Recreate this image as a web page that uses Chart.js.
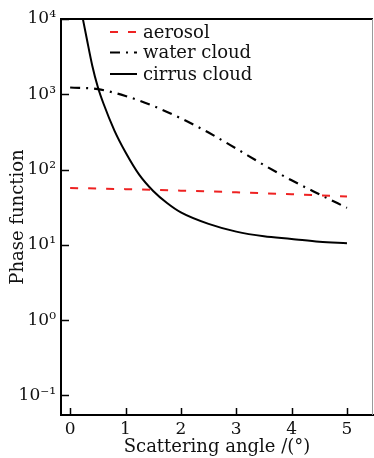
<!DOCTYPE html>
<html>
<head>
<meta charset="utf-8">
<script src="https://cdn.jsdelivr.net/npm/chart.js@4/dist/chart.umd.min.js"></script>
<style>
  html, body { margin: 0; padding: 0; background: #ffffff; }
  #wrap { width: 374px; height: 458px; position: relative; }
</style>
</head>
<body>
<div id="wrap"><canvas id="c"></canvas></div>
<script>
// ---- data ----
const seriesNames = ['aerosol', 'water cloud', 'cirrus cloud'];

const aerosolX = [0, 1, 2, 3, 4, 5];
const aerosolY = [57, 55, 52.5, 50, 47, 44];

const waterX = [0, 0.5, 1, 1.5, 2, 2.5, 3, 3.5, 4, 4.5, 5];
const waterY = [1230, 1170, 950, 700, 480, 310, 190, 115, 72, 47, 31];

const cirrusX = [0.2, 0.3, 0.4, 0.5, 0.6, 0.8, 1, 1.25, 1.5, 1.75, 2, 2.5, 3, 3.5, 4, 4.5, 5];
const cirrusY = [13000, 5500, 2400, 1250, 760, 330, 170, 85, 52, 36, 27, 19, 15, 13, 12, 11, 10.5];

const xTickValues = [0, 1, 2, 3, 4, 5];
const xTickLabels = ['0', '1', '2', '3', '4', '5'];
const yTickValues = [0.1, 1, 10, 100, 1000, 10000];
const yTickLabels = ['10\u207B\u00B9', '10\u2070', '10\u00B9', '10\u00B2', '10\u00B3', '10\u2074'];

const xTitle = 'Scattering angle /(\u00B0)';
const yTitle = 'Phase function';

// ---- chart ----
const FONT = '"DejaVu Serif", "Liberation Serif", serif';

function pts(xs, ys) { return xs.map((x, i) => ({ x: x, y: ys[i] })); }

const frameAndLegend = {
  id: 'frameAndLegend',
  afterDatasetsDraw(chart) {
    const ctx = chart.ctx;
    const { left, right, top, bottom } = chart.chartArea;
    const xs = chart.scales.x, ys = chart.scales.y;
    ctx.save();
    // top frame line
    ctx.strokeStyle = '#000';
    ctx.lineWidth = 2;
    ctx.beginPath();
    ctx.moveTo(left - 1, top);
    ctx.lineTo(right, top);
    ctx.stroke();
    // right frame line (thin grey)
    ctx.strokeStyle = '#9a9a9a';
    ctx.lineWidth = 1;
    ctx.beginPath();
    ctx.moveTo(right - 0.5, top);
    ctx.lineTo(right - 0.5, bottom);
    ctx.stroke();
    // inward tick marks
    ctx.strokeStyle = '#000';
    ctx.lineWidth = 1.5;
    ctx.beginPath();
    xs.ticks.forEach(t => {
      const px = Math.round(xs.getPixelForValue(t.value)) + 0.5;
      ctx.moveTo(px, bottom);
      ctx.lineTo(px, bottom - 7);
    });
    ys.ticks.forEach(t => {
      const py = Math.round(ys.getPixelForValue(t.value)) + 0.5;
      ctx.moveTo(left, py);
      ctx.lineTo(left + 8, py);
    });
    ctx.stroke();

    // legend inside plot
    const lx0 = left + 49, lx1 = left + 76, tx = left + 82;
    const rows = [top + 13, top + 33.5, top + 55];
    ctx.font = '18px ' + FONT;
    ctx.textBaseline = 'middle';
    ctx.textAlign = 'left';
    chart.data.datasets.forEach((ds, i) => {
      const ry = rows[i];
      ctx.save();
      ctx.strokeStyle = ds.borderColor;
      ctx.lineWidth = ds.borderWidth;
      ctx.setLineDash(ds.borderDash || []);
      ctx.beginPath();
      ctx.moveTo(lx0, ry);
      ctx.lineTo(lx1, ry);
      ctx.stroke();
      ctx.restore();
      ctx.fillStyle = '#111';
      ctx.fillText(ds.label, tx, ry + 1);
    });
    ctx.restore();
  }
};

new Chart(document.getElementById('c'), {
  type: 'line',
  data: {
    datasets: [
      {
        label: seriesNames[0],
        data: pts(aerosolX, aerosolY),
        borderColor: '#ee2222',
        borderWidth: 2,
        borderDash: [8, 10],
        pointRadius: 0,
        fill: false,
        tension: 0
      },
      {
        label: seriesNames[1],
        data: pts(waterX, waterY),
        borderColor: '#000000',
        borderWidth: 2.2,
        borderDash: [10, 6, 2, 6],
        pointRadius: 0,
        fill: false,
        cubicInterpolationMode: 'monotone'
      },
      {
        label: seriesNames[2],
        data: pts(cirrusX, cirrusY),
        borderColor: '#000000',
        borderWidth: 2,
        pointRadius: 0,
        fill: false,
        cubicInterpolationMode: 'monotone'
      }
    ]
  },
  options: {
    responsive: true,
    maintainAspectRatio: false,
    animation: false,
    devicePixelRatio: 1,
    layout: { padding: { top: 19, right: 1, bottom: 0, left: 0 } },
    plugins: {
      legend: { display: false },
      tooltip: { enabled: false }
    },
    scales: {
      x: {
        type: 'linear',
        min: -0.165,
        max: 5.47,
        afterBuildTicks: s => { s.ticks = xTickValues.map(v => ({ value: v })); },
        afterFit: s => { s.height = 43; },
        grid: { display: true, drawOnChartArea: false, drawTicks: false },
        border: { display: true, color: '#000', width: 2 },
        ticks: {
          padding: 4,
          color: '#111',
          font: { family: FONT, size: 17 },
          callback: (v, i) => xTickLabels[i]
        },
        title: {
          display: true,
          text: xTitle,
          color: '#111',
          font: { family: FONT, size: 18 },
          padding: { top: 0, bottom: 0 }
        }
      },
      y: {
        type: 'logarithmic',
        min: 0.055,
        max: 10000,
        afterBuildTicks: s => { s.ticks = yTickValues.map(v => ({ value: v })); },
        afterFit: s => { s.width = 61; },
        grid: { display: true, drawOnChartArea: false, drawTicks: false },
        border: { display: true, color: '#000', width: 2 },
        ticks: {
          padding: 5,
          color: '#111',
          font: { family: FONT, size: 17 },
          callback: (v, i) => yTickLabels[i]
        },
        title: {
          display: true,
          text: yTitle,
          color: '#111',
          font: { family: FONT, size: 18 },
          padding: { top: 8, bottom: 0 }
        }
      }
    }
  },
  plugins: [frameAndLegend]
});
</script>
</body>
</html>
